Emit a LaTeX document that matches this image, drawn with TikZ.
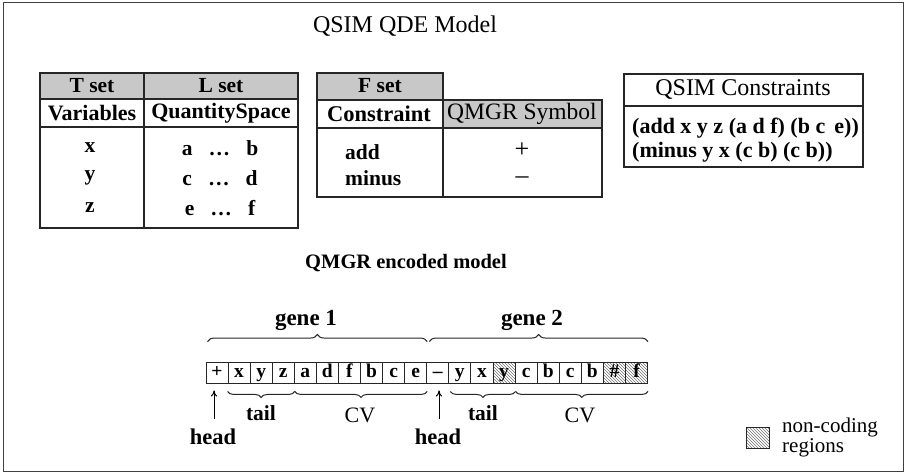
\documentclass[tikz,border=0pt]{standalone}
\usepackage{fontspec}
\setmainfont{Liberation Serif}
\usetikzlibrary{decorations.pathreplacing,patterns,arrows.meta}
\definecolor{hdrgray}{RGB}{200,200,200}
\newcommand{\fsz}[1]{\fontsize{#1}{#1}\selectfont}
\begin{document}
\begin{tikzpicture}[x=1pt,y=-1pt,
  txt/.style={inner sep=0pt, font=\fsz{21.5}},
  btxt/.style={inner sep=0pt, font=\fsz{21.5}\bfseries},
  tbl/.style={draw=black!85, line width=1.3pt},
  hdr/.style={fill=hdrgray},
  cell/.style={draw=black!85, line width=0.9pt, minimum width=22.08pt, minimum height=21pt,
    text height=13.5pt, text depth=4pt,
    inner sep=0pt, anchor=west, font=\fsz{19.5}\bfseries},
  hatch/.style={pattern=north west lines, pattern color=black!55},
  upbrace/.style={decorate, decoration={brace, amplitude=7pt}, line width=1pt, black!85},
  downbrace/.style={decorate, decoration={brace, amplitude=6pt, mirror}, line width=1pt, black!85},
  headarrow/.style={-{To[length=6pt,width=6pt]}, line width=1pt},
  sym/.style={inner sep=0pt, font=\fsz{26}, text height=10pt, text depth=0pt, anchor=base},
]
\useasboundingbox (0,0) rectangle (908,473);
\draw[line width=1pt, black!75] (3,3) rectangle (903,471);

% title
\node[txt, font=\fsz{24}] (title) at (405,26) {QSIM QDE Model};

% T / L table
\fill[hdr] (40,73) rectangle (298,99);
\draw[tbl] (40,73) rectangle (298,228);
\draw[tbl] (40,99) -- (298,99);
\draw[tbl] (40,127) -- (298,127);
\draw[tbl] (144,73) -- (144,228);
\node[btxt] (tset) at (92,86) {T set};
\node[btxt] (lset) at (221,86) {L set};
\node[btxt, font=\fsz{22}\bfseries] (vars) at (92,113) {Variables};
\node[btxt, font=\fsz{22}\bfseries] (qspace) at (221,113) {QuantitySpace};
\node[btxt] (vx) at (90,148) {x};
\node[btxt] (vy) at (90,178) {y};
\node[btxt] (vz) at (90,208) {z};
\node[btxt] (qx) at (220,148) {a\hspace{0.75em}…\hspace{0.75em}b};
\node[btxt] (qy) at (220,178) {c\hspace{0.75em}…\hspace{0.75em}d};
\node[btxt] (qz) at (220,208) {e\hspace{0.75em}…\hspace{0.75em}f};

% F table
\fill[hdr] (317,73) rectangle (443,100);
\fill[hdr] (443,100) rectangle (602,128);
\draw[tbl] (317,100) -- (317,73) -- (443,73) -- (443,197);
\draw[tbl] (317,100) rectangle (602,197);
\draw[tbl] (317,128) -- (602,128);
\node[btxt] (fset) at (380,86) {F set};
\node[btxt, font=\fsz{22.5}\bfseries] (constr) at (379,114) {Constraint};
\node[txt, font=\fsz{23.5}] (qsym) at (522,114) {QMGR Symbol};
\node[btxt, anchor=west] (cadd) at (345,152) {add};
\node[btxt, anchor=west] (cminus) at (345,178) {minus};
\node[sym] (splus) at (522,158) {+};
\node[sym] (sminus) at (522,184) {--};

% QSIM constraints
\draw[tbl, line width=1.1pt] (624,74) rectangle (863,167);
\draw[tbl, line width=1.1pt] (624,106) -- (863,106);
\node[txt, font=\fsz{24}] (qsimc) at (743,90) {QSIM Constraints};
\node[btxt, font=\fsz{22}\bfseries, anchor=west] (l1) at (632,128) {(add x y z (a d f) (b c\, e))};
\node[btxt, font=\fsz{22}\bfseries, anchor=west] (l2) at (632,152) {(minus y x (c b) (c b))};

% encoded model
\node[btxt, font=\fsz{20.5}\bfseries] (enc) at (406,263) {QMGR encoded model};

\foreach \s [count=\i from 0] in {+,x,y,z,a,d,f,b,c,e,--,y,x,y,c,b,c,b,\#,f}{
  \ifnum\i=13
    \node[cell, hatch] (c\i) at ({205.5+22.08*\i},372.5) {\s};
  \else\ifnum\i>17
    \node[cell, hatch] (c\i) at ({205.5+22.08*\i},372.5) {\s};
  \else
    \node[cell] (c\i) at ({205.5+22.08*\i},372.5) {\s};
  \fi\fi
}

% gene braces
\draw[upbrace] ([xshift=2pt, yshift=20pt]c0.north west) -- ([yshift=20pt]c9.north east);
\draw[upbrace] ([xshift=3pt, yshift=20pt]c10.north west) -- ([yshift=20pt]c19.north east);
\node[btxt, font=\fsz{23}\bfseries] (gene1) at (306,320) {gene 1};
\node[btxt, font=\fsz{23}\bfseries] (gene2) at (532,320) {gene 2};

% lower braces
\draw[downbrace] ([yshift=-8pt]c1.south west) -- ([yshift=-8pt]c3.south east);
\draw[downbrace] ([xshift=1pt, yshift=-8pt]c4.south west) -- ([yshift=-8pt]c9.south east);
\draw[downbrace] ([xshift=2pt, yshift=-8pt]c11.south west) -- ([yshift=-8pt]c13.south east);
\draw[downbrace] ([xshift=1pt, yshift=-8pt]c14.south west) -- ([yshift=-8pt]c19.south east);
\node[btxt] (tail1) at (261,413) {tail};
\node[txt, font=\fsz{22}] (cv1) at (360,415) {CV};
\node[btxt] (tail2) at (483,413) {tail};
\node[txt, font=\fsz{22}] (cv2) at (580,415) {CV};

% heads
\node[btxt, font=\fsz{22.5}\bfseries] (head1) at (213,437) {head};
\node[btxt, font=\fsz{22.5}\bfseries] (head2) at (438,437) {head};
\draw[headarrow] ([xshift=1pt, yshift=10pt]head1.north) -- ([xshift=1pt, yshift=-7pt]head1.north |- c0.south);
\draw[headarrow] ([xshift=1pt, yshift=10pt]head2.north) -- ([xshift=1pt, yshift=-7pt]head2.north |- c10.south);

% legend
\draw[hatch, draw=black!85, line width=0.9pt] (746,427) rectangle (769,448);
\node[txt, anchor=north west, align=left, font=\fontsize{21}{16}\selectfont] (legend) at (782,418) {non-coding\\regions};
\end{tikzpicture}
\end{document}
